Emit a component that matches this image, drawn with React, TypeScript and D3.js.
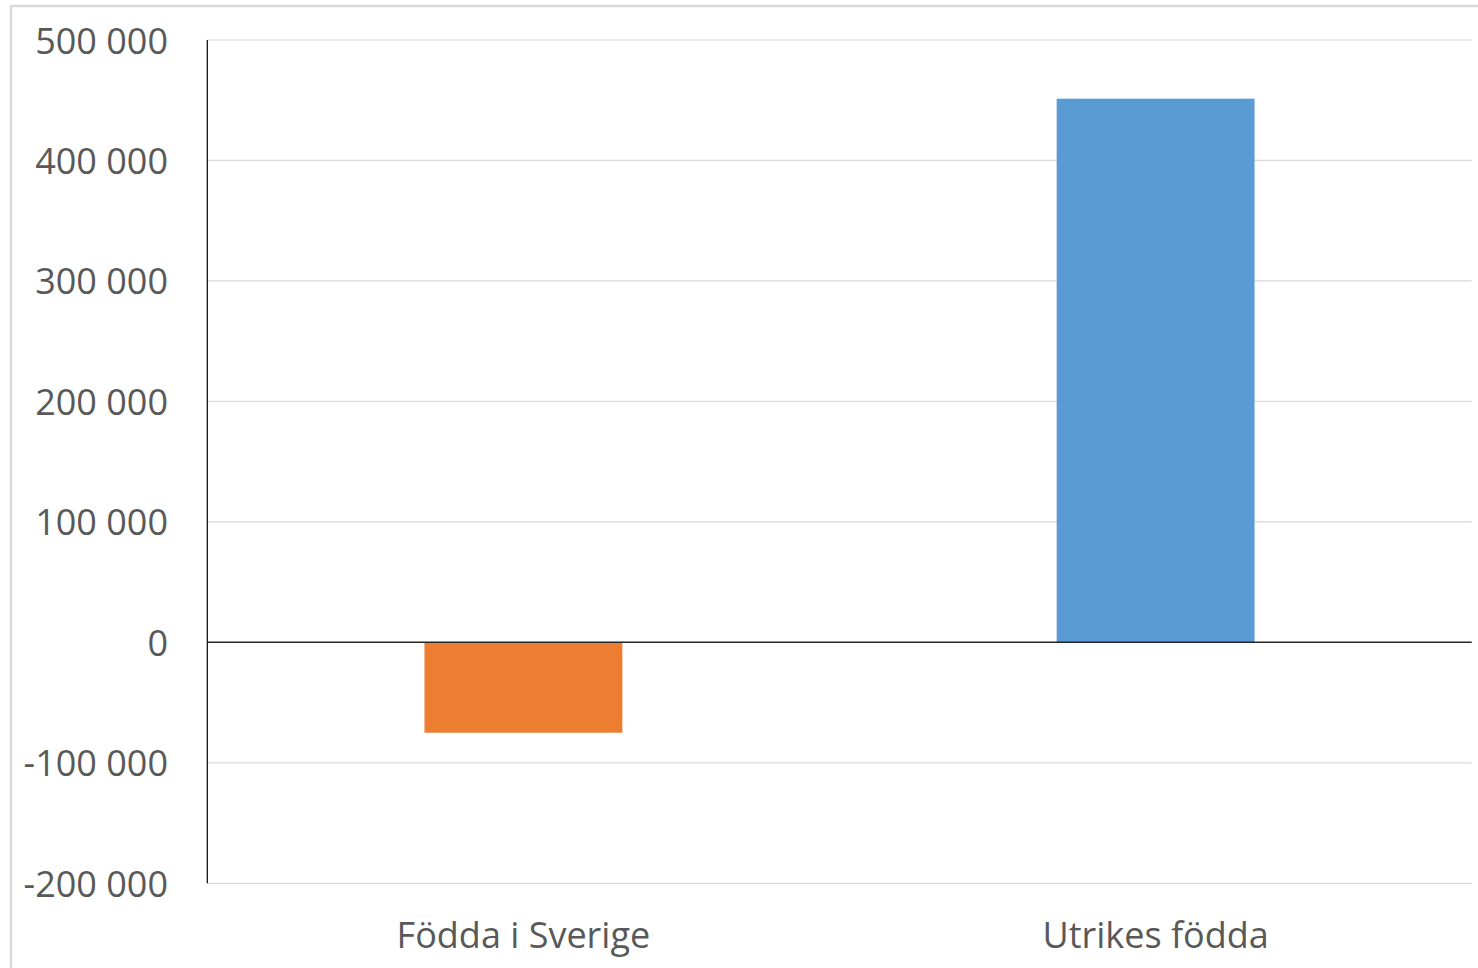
import React from "react";
import * as d3 from "d3";

const categories = ["Födda i Sverige", "Utrikes födda"];
const values = [-75000, 451300];
const colors = ["#ED7D31", "#5B9BD5"];
const yTicks = [500000, 400000, 300000, 200000, 100000, 0, -100000, -200000];

const W = 1478;
const H = 968;
const margin = { left: 207.3, right: 1478 - 1471.7, top: 40, bottom: 968 - 883.3 };

const fmt = (v: number) => {
  const s = Math.abs(v).toString().replace(/\B(?=(\d{3})+(?!\d))/g, " ");
  return (v < 0 ? "-" : "") + s;
};

export default function App() {
  const x = d3
    .scaleBand<string>()
    .domain(categories)
    .range([margin.left, W - margin.right])
    .paddingInner(0.687)
    .paddingOuter(0.687 / 2);
  const y = d3
    .scaleLinear()
    .domain([-200000, 500000])
    .range([H - margin.bottom, margin.top]);
  const font = "'Open Sans', sans-serif";
  return (
    <svg
      width={W}
      height={H}
      style={{ position: "absolute", left: 0, top: 0, background: "#fff" }}
    >
      <rect x={11} y={6} width={1600} height={1200} fill="#fff" stroke="#d9d9d9" strokeWidth={2.5} />
      {yTicks.map((t) => (
        <g key={t}>
          {t !== 0 && (
            <line
              x1={margin.left}
              x2={W - margin.right}
              y1={y(t)}
              y2={y(t)}
              stroke="#d9d9d9"
              strokeWidth={1.2}
            />
          )}
          <text
            x={168}
            y={y(t)}
            textAnchor="end"
            dominantBaseline="central"
            fontFamily={font}
            fontSize={36}
            fill="#595959"
          >
            {fmt(t)}
          </text>
        </g>
      ))}
      {categories.map((c, i) => {
        const v = values[i];
        return (
          <rect
            key={c}
            x={x(c)}
            width={x.bandwidth()}
            y={y(Math.max(0, v))}
            height={Math.abs(y(v) - y(0))}
            fill={colors[i]}
          />
        );
      })}
      <line
        x1={margin.left}
        x2={margin.left}
        y1={y(500000)}
        y2={y(-200000)}
        stroke="#000"
        strokeWidth={1.2}
      />
      <line
        x1={margin.left}
        x2={W - margin.right}
        y1={y(0)}
        y2={y(0)}
        stroke="#262626"
        strokeWidth={1.5}
      />
      {categories.map((c) => (
        <text
          key={c}
          x={(x(c) as number) + x.bandwidth() / 2}
          y={948}
          textAnchor="middle"
          fontFamily={font}
          fontSize={36}
          fill="#595959"
        >
          {c}
        </text>
      ))}
    </svg>
  );
}
